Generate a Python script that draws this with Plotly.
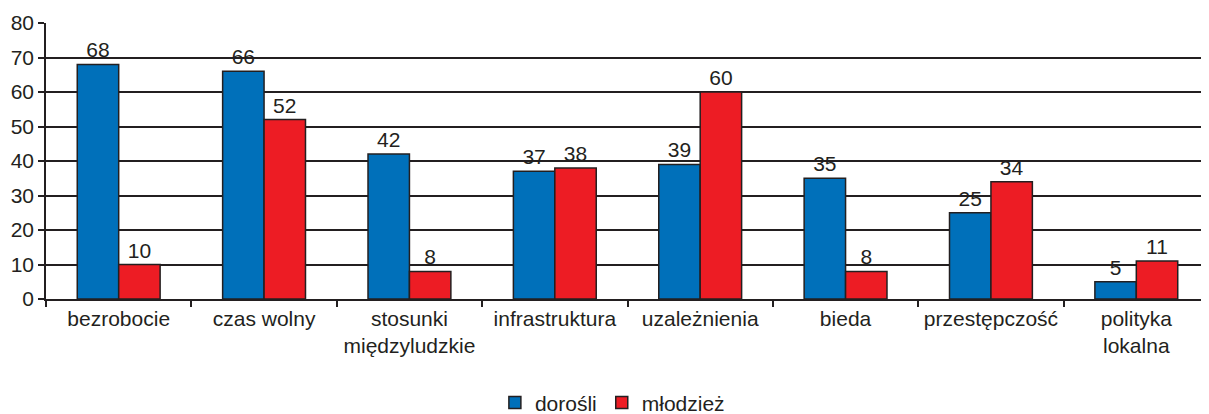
import plotly.graph_objects as go

categories = ["bezrobocie", "czas wolny", "stosunki<br>międzyludzkie", "infrastruktura",
              "uzależnienia", "bieda", "przestępczość", "polityka<br>lokalna"]
dorosli = [68, 66, 42, 37, 39, 35, 25, 5]
mlodziez = [10, 52, 8, 38, 60, 8, 34, 11]

FONT = "Liberation Sans, Arial, sans-serif"
DARK = "#231f20"
FS = 21

fig = go.Figure()
fig.add_trace(go.Bar(name="dorośli", x=categories, y=dorosli, text=dorosli,
                     textposition="outside", cliponaxis=False,
                     marker=dict(color="#0070ba", line=dict(color=DARK, width=1.5)),
                     textfont=dict(size=FS, color=DARK, family=FONT)))
fig.add_trace(go.Bar(name="młodzież", x=categories, y=mlodziez, text=mlodziez,
                     textposition="outside", cliponaxis=False,
                     marker=dict(color="#ed1c24", line=dict(color=DARK, width=1.5)),
                     textfont=dict(size=FS, color=DARK, family=FONT)))

fig.update_layout(
    width=1209, height=414,
    margin=dict(l=38, r=8, t=15, b=123, autoexpand=False),
    paper_bgcolor="white", plot_bgcolor="white",
    barmode="group", bargap=0.43, bargroupgap=0.0,
    font=dict(family=FONT, size=FS, color=DARK),
    showlegend=True,
    legend=dict(orientation="h", x=0.487, xanchor="center", y=-0.376, yanchor="middle",
                font=dict(size=FS, color=DARK, family=FONT), itemwidth=30,
                traceorder="normal", tracegroupgap=0),
    uniformtext=dict(minsize=10, mode="show"),
)
fig.update_xaxes(showline=True, linecolor=DARK, linewidth=1.5, ticks="outside",
                 tickson="boundaries", ticklen=6, tickcolor=DARK, tickwidth=1.5,
                 tickfont=dict(size=FS, color=DARK, family=FONT), showgrid=False)
fig.update_yaxes(range=[0, 80], dtick=10, showline=True, linecolor=DARK, linewidth=1.5,
                 ticks="outside", ticklen=6, tickcolor=DARK, tickwidth=1.5,
                 showgrid=True, gridcolor=DARK, gridwidth=1.5, zeroline=False,
                 tickfont=dict(size=FS, color=DARK, family=FONT))

fig.write_html("out.html")
